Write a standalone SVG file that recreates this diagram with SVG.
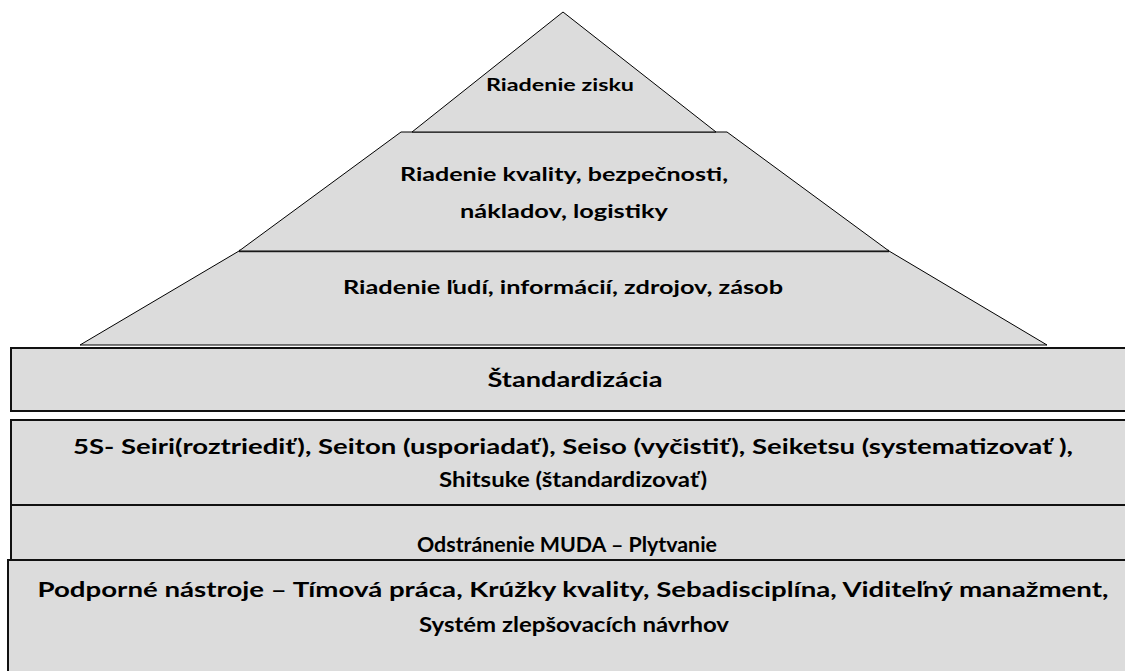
<svg xmlns="http://www.w3.org/2000/svg" width="1125" height="671" viewBox="0 0 1125 671">
<style>
.t{font-family:Lato,"Open Sans","Liberation Sans",sans-serif;font-weight:bold;fill:#000;text-anchor:middle}
.py{fill:#dcdcdc;stroke:#000;stroke-width:1}
.bx{fill:#dcdcdc;stroke:#111;stroke-width:2}
</style>
<rect width="1125" height="671" fill="#fff"/>
<g id="level-bottom-pyramid">
<polygon class="py" points="239,251 889,251 1047,345 80,345"/>
<line x1="239" y1="251" x2="889" y2="251" stroke="#333" stroke-width="2.5"/>
<text class="t" x="563" y="294" font-size="19" textLength="440" lengthAdjust="spacingAndGlyphs">Riadenie ľudí, informácií, zdrojov, zásob</text>
</g>
<g id="level-middle-pyramid">
<polygon class="py" points="401,132 727,132 889,251 239,251"/>
<text class="t" x="564" y="181" font-size="19" textLength="328" lengthAdjust="spacingAndGlyphs">Riadenie kvality, bezpečnosti,</text>
<text class="t" x="564" y="218" font-size="19" textLength="208" lengthAdjust="spacingAndGlyphs">nákladov, logistiky</text>
</g>
<g id="level-top-pyramid">
<polygon class="py" points="563,12 412,132 716,132"/>
<text class="t" x="560" y="91" font-size="16.5" textLength="148" lengthAdjust="spacingAndGlyphs">Riadenie zisku</text>
</g>
<g id="standardizacia">
<rect class="bx" x="11" y="348" width="1124" height="63"/>
<text class="t" x="575" y="387" font-size="21" textLength="175" lengthAdjust="spacingAndGlyphs">Štandardizácia</text>
</g>
<g id="5s">
<rect class="bx" x="11" y="420" width="1124" height="85"/>
<text class="t" x="573" y="454" font-size="21" textLength="1000" lengthAdjust="spacingAndGlyphs">5S- Seiri(roztriediť), Seiton (usporiadať), Seiso (vyčistiť), Seiketsu (systematizovať ),</text>
<text class="t" x="573" y="487" font-size="21" textLength="268" lengthAdjust="spacingAndGlyphs">Shitsuke (štandardizovať)</text>
</g>
<g id="odstranenie-muda">
<rect class="bx" x="11" y="505" width="1124" height="55"/>
<text class="t" x="567" y="552" font-size="21" textLength="300" lengthAdjust="spacingAndGlyphs">Odstránenie MUDA – Plytvanie</text>
</g>
<g id="podporne-nastroje">
<rect class="bx" x="8" y="560" width="1130" height="120"/>
<text class="t" x="573" y="597" font-size="21" textLength="1071" lengthAdjust="spacingAndGlyphs">Podporné nástroje – Tímová práca, Krúžky kvality, Sebadisciplína, Viditeľný manažment,</text>
<text class="t" x="574" y="632" font-size="21" textLength="310" lengthAdjust="spacingAndGlyphs">Systém zlepšovacích návrhov</text>
</g>
<g id="connectors"/>
</svg>
